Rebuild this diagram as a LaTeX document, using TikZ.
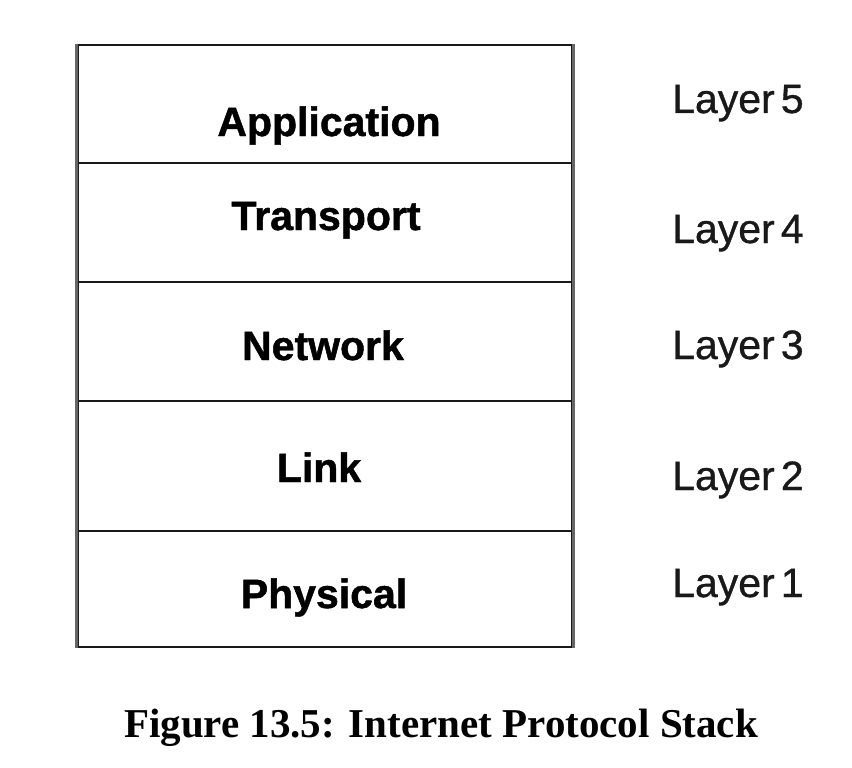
\documentclass[tikz,border=0pt]{standalone}
\usepackage{fontspec}
\setmainfont{Liberation Serif}
\newfontfamily\arialfont[FakeBold=0.8]{Liberation Sans}
\newfontfamily\arialboldfont[FakeBold=1.2]{Liberation Sans Bold}
\begin{document}
\begin{tikzpicture}[x=1pt,y=-1pt,
  layerbox/.style={draw=black!90,line width=2.6pt,inner sep=0pt,minimum width=494pt,rectangle},
  boxtext/.style={anchor=base,inner sep=0pt,font=\arialboldfont\fontsize{41}{41}\selectfont,text=black},
  layertext/.style={anchor=base west,inner sep=0pt,font=\arialfont\fontsize{41}{41}\selectfont,text=black!90},
  sideline/.style={draw=black!60,line width=3.2pt}]
\useasboundingbox (0,0) rectangle (852,768);
\fill[white] (0,0) rectangle (852,768);
% layer boxes
\node[layerbox,minimum height=118pt] (app) at (325,104) {};
\node[layerbox,minimum height=119pt] (tra) at (325,222.5) {};
\node[layerbox,minimum height=119pt] (net) at (325,341.5) {};
\node[layerbox,minimum height=130pt] (lnk) at (325,466) {};
\node[layerbox,minimum height=116pt] (phy) at (325,589) {};
% gray side edges
\draw[sideline] (app.north west) -- (phy.south west);
\draw[sideline] (app.north east) -- (phy.south east);
% box texts
\node[boxtext] (tapp) at (329,136) {Application};
\node[boxtext] (ttra) at (326,230) {Transport};
\node[boxtext] (tnet) at (323,360) {Network};
\node[boxtext] (tlnk) at (319,482) {Link};
\node[boxtext] (tphy) at (324,608) {Physical};
% layer labels
\node[layertext] (l5) at (672,113) {Layer\hspace{0.15em}5};
\node[layertext] (l4) at (672,243) {Layer\hspace{0.15em}4};
\node[layertext] (l3) at (672,359) {Layer\hspace{0.15em}3};
\node[layertext] (l2) at (672,490) {Layer\hspace{0.15em}2};
\node[layertext] (l1) at (672,597) {Layer\hspace{0.15em}1};
% caption
\node[anchor=base,inner sep=0pt,font=\bfseries\fontsize{41}{41}\selectfont] (cap) at (441,737) {Figure 13.5: Internet Protocol Stack};
\end{tikzpicture}
\end{document}
